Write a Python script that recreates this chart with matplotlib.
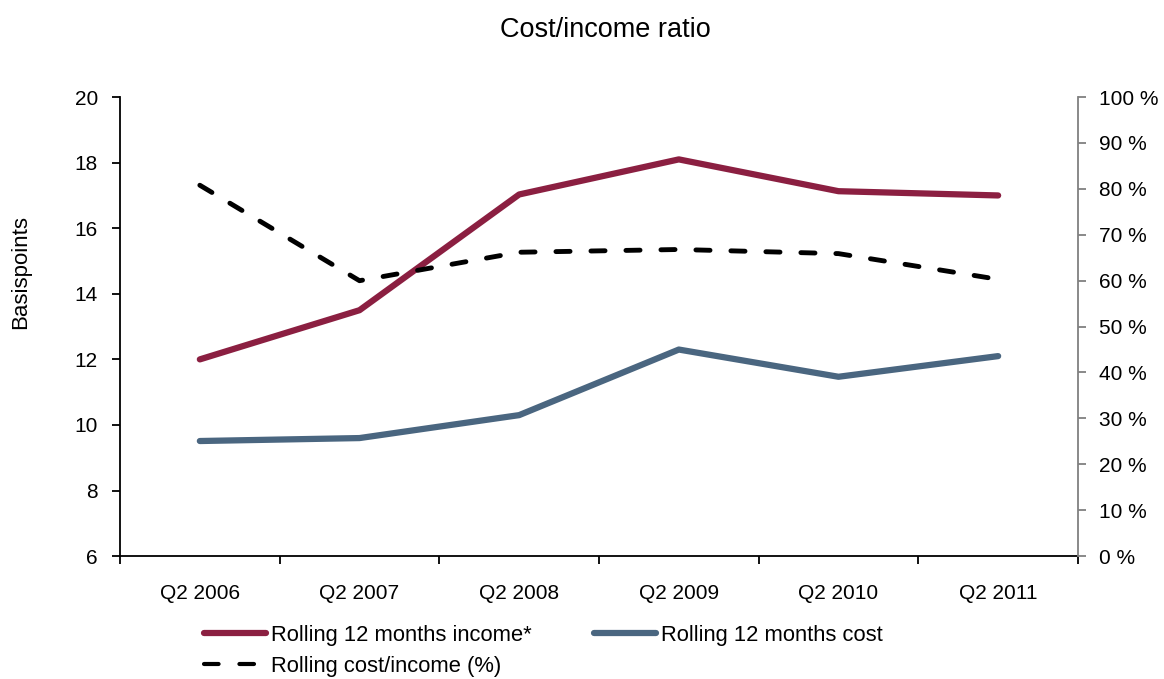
import matplotlib.pyplot as plt
from matplotlib.lines import Line2D

plt.rcParams['font.family'] = ['Liberation Sans', 'DejaVu Sans']

# Quarterly figures
quarters = ["Q2 2006", "Q2 2007", "Q2 2008", "Q2 2009", "Q2 2010", "Q2 2011"]
income = [12.0, 13.5, 17.03, 18.1, 17.13, 17.0]      # basispoints
cost = [9.51, 9.6, 10.3, 12.3, 11.47, 12.1]          # basispoints
cost_income = [80.8, 60.0, 66.2, 66.8, 65.9, 60.3]   # percent

income_color = "#8B1F41"
cost_color = "#4A6680"
dash_pattern = (2.9, 4.3)

fig = plt.figure(figsize=(11.64, 6.79), dpi=100)
ax = fig.add_axes([0.1031, 0.181, 0.8230, 0.676])
ax2 = ax.twinx()

x = list(range(len(quarters)))
l1, = ax.plot(x, income, color=income_color, lw=4.5, solid_capstyle='round',
              solid_joinstyle='round', label="Rolling 12 months income*")
l2, = ax.plot(x, cost, color=cost_color, lw=4.5, solid_capstyle='round',
              solid_joinstyle='round', label="Rolling 12 months cost")
ax2.plot(x, cost_income, color="black", lw=3.5, dashes=dash_pattern,
         dash_capstyle='round')
l3 = Line2D([], [], color="black", lw=3.0, dashes=(3.5, 5.0),
            dash_capstyle='round', label="Rolling cost/income (%)")

# Left axis
ax.set_xlim(-0.5, len(quarters) - 0.5)
ax.set_ylim(6, 20)
ax.set_yticks(range(6, 21, 2))
ax.set_xticks(x)
ax.set_xticklabels(quarters)
ax.set_xticks([i - 0.5 for i in range(len(quarters) + 1)], minor=True)
ax.tick_params(axis='x', which='major', length=0, pad=20, labelsize=15)
ax.tick_params(axis='x', which='minor', length=6, width=1.3, direction='out')
ax.tick_params(axis='y', length=6, width=1.3, labelsize=15, pad=10)
ax.set_ylabel("Basispoints", fontsize=16)
ax.yaxis.set_label_coords(-0.093, 0.619)
for side in ("top", "right"):
    ax.spines[side].set_visible(False)
ax.spines["left"].set_linewidth(1.3)
ax.spines["bottom"].set_linewidth(1.3)

# Right axis
ax2.set_ylim(0, 100)
ax2.set_yticks(range(0, 101, 10))
ax2.set_yticklabels([f"{v} %" for v in range(0, 101, 10)])
ax2.tick_params(axis='y', length=6, width=1.3, color="#808080", labelsize=15, pad=9)
for side in ("top", "left", "bottom"):
    ax2.spines[side].set_visible(False)
ax2.spines["right"].set_color("#808080")
ax2.spines["right"].set_linewidth(1.3)

fig.suptitle("Cost/income ratio", fontsize=19.5, x=0.52, y=0.975)

fig.legend(handles=[l1, l3, l2], ncol=2, loc="upper left",
           bbox_to_anchor=(0.175, 0.080), frameon=False, fontsize=15.8,
           handlelength=2.85, handletextpad=0.2, columnspacing=2.85,
           labelspacing=0.45, borderaxespad=0, borderpad=0)

fig.savefig("out.png", dpi=100)
